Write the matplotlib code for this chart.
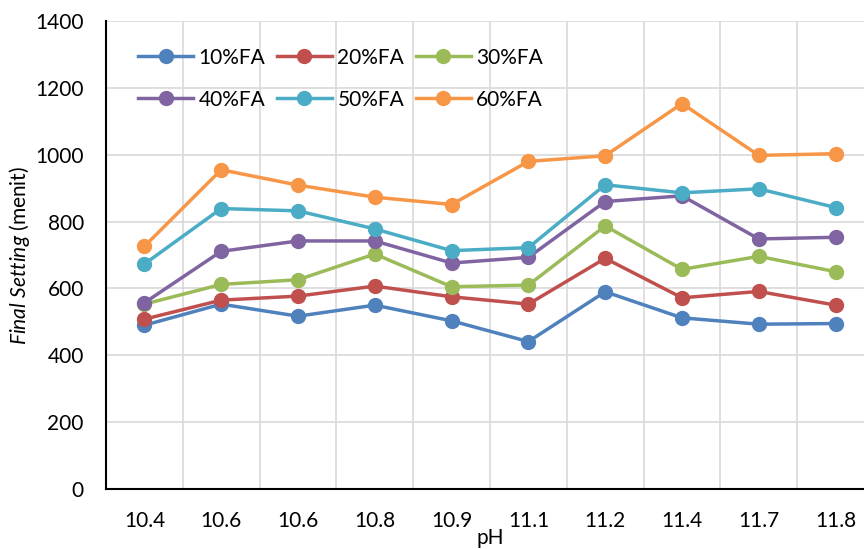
import matplotlib
matplotlib.use("Agg")
import matplotlib.pyplot as plt

plt.rcParams['font.family'] = ['Lato', 'DejaVu Sans']
plt.rcParams['mathtext.fontset'] = 'custom'
plt.rcParams['mathtext.it'] = 'Lato:italic'
plt.rcParams['mathtext.rm'] = 'Lato'

ph = ['10.4', '10.6', '10.6', '10.8', '10.9', '11.1', '11.2', '11.4', '11.7', '11.8']
fa10 = [490, 553, 517, 550, 503, 441, 590, 512, 493, 495]
fa20 = [508, 565, 577, 607, 575, 553, 690, 572, 591, 550]
fa30 = [553, 612, 626, 703, 605, 610, 787, 657, 696, 650]
fa40 = [557, 711, 742, 742, 676, 693, 860, 877, 748, 753]
fa50 = [673, 839, 832, 778, 713, 722, 910, 886, 898, 842]
fa60 = [726, 955, 909, 873, 851, 980, 997, 1153, 998, 1003]

series = [('10%FA', fa10, '#4F81BD'), ('20%FA', fa20, '#C0504D'), ('30%FA', fa30, '#9BBB59'),
          ('40%FA', fa40, '#8064A2'), ('50%FA', fa50, '#4BACC6'), ('60%FA', fa60, '#F79646')]

fig = plt.figure(figsize=(8.64, 5.49), dpi=100)
ax = fig.add_axes([106/864, 60/549, 768/864, 468/549])

x = list(range(len(ph)))
linhas = []
for nome, vals, cor in series:
    l, = ax.plot(x, vals, color=cor, lw=2.5, marker='o', ms=10, label=nome, zorder=3)
    linhas.append(l)

ax.set_xlim(-0.5, len(ph) - 0.5)
ax.set_ylim(0, 1400)
ax.set_yticks(range(0, 1401, 200))
ax.set_xticks(x)
ax.set_xticklabels(ph)
ax.set_xticks([i + 0.5 for i in x], minor=True)
ax.grid(True, which='minor', axis='x', color='#D9D9D9', lw=1.2)
ax.grid(True, which='major', axis='y', color='#D9D9D9', lw=1.2)
ax.tick_params(which='both', length=0, labelsize=15)
ax.tick_params(axis='x', pad=16)
ax.tick_params(axis='y', pad=16)
for s in ['top', 'right']:
    ax.spines[s].set_visible(False)
for s in ['left', 'bottom']:
    ax.spines[s].set_color('black')
    ax.spines[s].set_linewidth(1.5)

ax.set_xlabel('pH', fontsize=15, labelpad=-2)
ax.set_ylabel(r'$\mathit{Final\ Setting}$ (menit)', fontsize=15, labelpad=2)

# legenda preenchida por linha (3 colunas)
ordem = [0, 3, 1, 4, 2, 5]
ax.legend([linhas[i] for i in ordem], [series[i][0] for i in ordem], ncol=3,
          loc='upper left', bbox_to_anchor=(0.042, 0.943), frameon=False,
          fontsize=15, handlelength=2.65, columnspacing=0.55, handletextpad=0.25,
          labelspacing=1.05, borderpad=0, borderaxespad=0)

fig.savefig('out.png', dpi=100)
